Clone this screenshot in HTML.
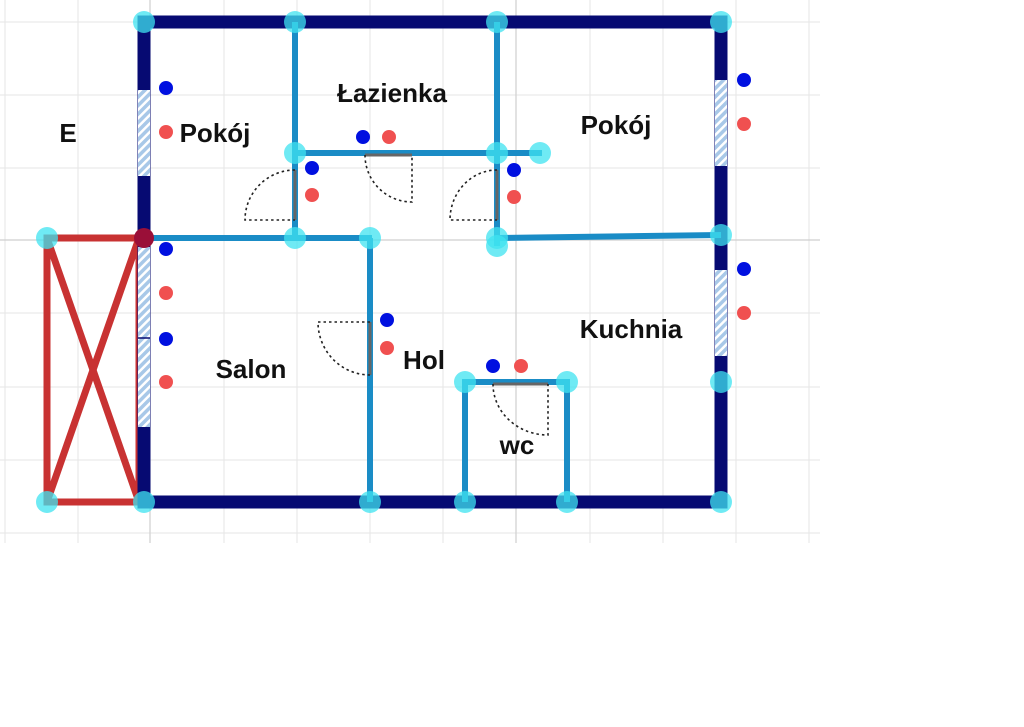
<!DOCTYPE html>
<html><head><meta charset="utf-8"><style>
html,body{margin:0;padding:0;background:#fff;width:1024px;height:727px;overflow:hidden}
text{font-family:"Liberation Sans",sans-serif;font-weight:bold;font-size:26px;fill:#111;text-anchor:middle}
</style></head><body>
<svg width="1024" height="727" viewBox="0 0 1024 727" xmlns="http://www.w3.org/2000/svg">
<defs>
<pattern id="h" width="6" height="6" patternUnits="userSpaceOnUse" patternTransform="rotate(45)">
<rect width="6" height="6" fill="#a8c8e8"/><rect width="2.5" height="6" fill="#fff"/>
</pattern>
</defs>
<g stroke="#e6e6e6" stroke-width="1">
<line x1="5" y1="0" x2="5" y2="543"/><line x1="78" y1="0" x2="78" y2="543"/><line x1="224" y1="0" x2="224" y2="543"/><line x1="297" y1="0" x2="297" y2="543"/><line x1="370" y1="0" x2="370" y2="543"/><line x1="443" y1="0" x2="443" y2="543"/><line x1="590" y1="0" x2="590" y2="543"/><line x1="663" y1="0" x2="663" y2="543"/><line x1="736" y1="0" x2="736" y2="543"/><line x1="809" y1="0" x2="809" y2="543"/>
<line x1="0" y1="22" x2="820" y2="22"/><line x1="0" y1="95" x2="820" y2="95"/><line x1="0" y1="168" x2="820" y2="168"/><line x1="0" y1="313" x2="820" y2="313"/><line x1="0" y1="387" x2="820" y2="387"/><line x1="0" y1="460" x2="820" y2="460"/><line x1="0" y1="533" x2="820" y2="533"/>
</g>
<g stroke="#cfcfcf" stroke-width="1.2">
<line x1="150" y1="0" x2="150" y2="543"/><line x1="516" y1="0" x2="516" y2="543"/><line x1="0" y1="240" x2="820" y2="240"/>
</g>
<g stroke="#c83232" stroke-width="7" fill="none">
<rect x="47" y="238" width="92" height="264"/>
<line x1="47" y1="238" x2="139" y2="502"/><line x1="139" y1="238" x2="47" y2="502"/>
</g>
<g stroke="#060a72" stroke-width="13" fill="none" stroke-linecap="square">
<rect x="144" y="22" width="577" height="480"/>
</g>
<rect x="138" y="90" width="12" height="86" fill="url(#h)"/>
<rect x="138" y="247" width="12" height="180" fill="url(#h)"/>
<line x1="138" y1="338" x2="150" y2="338" stroke="#060a72" stroke-width="1.5"/>
<rect x="715" y="80" width="12" height="86" fill="url(#h)"/>
<rect x="715" y="270" width="12" height="86" fill="url(#h)"/>
<g stroke="#1a8cc6" stroke-width="6" fill="none">
<line x1="295" y1="22" x2="295" y2="240"/><line x1="497" y1="22" x2="497" y2="246"/>
<line x1="295" y1="153" x2="542" y2="153"/><line x1="144" y1="238" x2="372" y2="238"/>
<line x1="370" y1="238" x2="370" y2="502"/><line x1="497" y1="238" x2="721" y2="235"/>
<polyline points="465,502 465,382 567,382 567,502"/>
</g>
<g stroke="#666" stroke-width="3">
<line x1="295" y1="170" x2="295" y2="220"/><line x1="365" y1="155" x2="412" y2="155"/>
<line x1="497" y1="170" x2="497" y2="220"/><line x1="370" y1="322" x2="370" y2="375"/>
<line x1="493" y1="384" x2="548" y2="384"/>
</g>
<g stroke="#222" stroke-width="1.6" stroke-dasharray="2.5,3" fill="none">
<path d="M295 170 A50 50 0 0 0 245 220 L295 220"/>
<path d="M365 155 A47 47 0 0 0 412 202 L412 155"/>
<path d="M497 170 A47 50 0 0 0 450 220 L497 220"/>
<path d="M370 322 L318 322 A52 53 0 0 0 370 375"/>
<path d="M493 384 A55 51 0 0 0 548 435 L548 384"/>
</g>
<g fill="#3fe3f0" fill-opacity="0.75">
<circle cx="144" cy="22" r="11"/><circle cx="295" cy="22" r="11"/><circle cx="497" cy="22" r="11"/><circle cx="721" cy="22" r="11"/>
<circle cx="295" cy="153" r="11"/><circle cx="497" cy="153" r="11"/><circle cx="540" cy="153" r="11"/>
<circle cx="47" cy="238" r="11"/><circle cx="295" cy="238" r="11"/><circle cx="370" cy="238" r="11"/><circle cx="497" cy="238" r="11"/><circle cx="497" cy="246" r="11"/><circle cx="721" cy="235" r="11"/>
<circle cx="721" cy="382" r="11"/><circle cx="465" cy="382" r="11"/><circle cx="567" cy="382" r="11"/>
<circle cx="47" cy="502" r="11"/><circle cx="144" cy="502" r="11"/><circle cx="370" cy="502" r="11"/><circle cx="465" cy="502" r="11"/><circle cx="567" cy="502" r="11"/><circle cx="721" cy="502" r="11"/>
</g>
<circle cx="144" cy="238" r="10" fill="#9a0f38"/>
<g fill="#0010e0">
<circle cx="166" cy="88" r="7"/><circle cx="312" cy="168" r="7"/><circle cx="363" cy="137" r="7"/><circle cx="514" cy="170" r="7"/><circle cx="744" cy="80" r="7"/><circle cx="166" cy="249" r="7"/><circle cx="166" cy="339" r="7"/><circle cx="387" cy="320" r="7"/><circle cx="493" cy="366" r="7"/><circle cx="744" cy="269" r="7"/>
</g>
<g fill="#f05050">
<circle cx="166" cy="132" r="7"/><circle cx="312" cy="195" r="7"/><circle cx="389" cy="137" r="7"/><circle cx="514" cy="197" r="7"/><circle cx="744" cy="124" r="7"/><circle cx="166" cy="293" r="7"/><circle cx="166" cy="382" r="7"/><circle cx="387" cy="348" r="7"/><circle cx="521" cy="366" r="7"/><circle cx="744" cy="313" r="7"/>
</g>
<text x="68" y="142">E</text>
<text x="215" y="142">Pokój</text>
<text x="392" y="102">Łazienka</text>
<text x="616" y="134">Pokój</text>
<text x="251" y="378">Salon</text>
<text x="424" y="369">Hol</text>
<text x="631" y="338">Kuchnia</text>
<text x="517" y="454">wc</text>
</svg>
</body></html>
